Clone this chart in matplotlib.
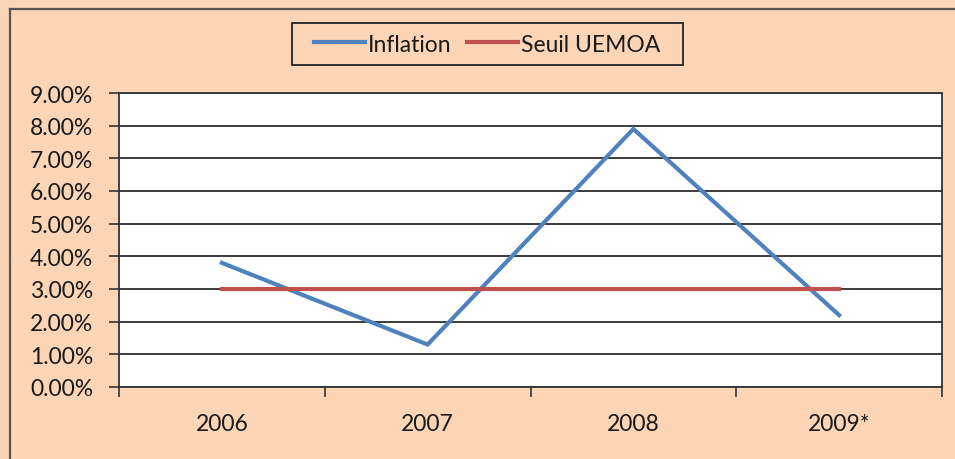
import matplotlib
matplotlib.use("Agg")
import matplotlib.pyplot as plt
from matplotlib.lines import Line2D
from matplotlib.patches import Rectangle
from matplotlib.ticker import FixedLocator, FuncFormatter

years = ["2006", "2007", "2008", "2009*"]
inflation = [3.8, 1.3, 7.9, 2.2]
seuil = [3.0, 3.0, 3.0, 3.0]
yticks = [0, 1, 2, 3, 4, 5, 6, 7, 8, 9]

W, H = 955, 460
bg = "#FBD5B5"
fig = plt.figure(figsize=(W / 100, H / 100), dpi=100, facecolor=bg)
plt.rcParams["font.family"] = ["Lato", "DejaVu Sans"]
FS = 16.5

# outer frame (left and top edges visible)
fig.add_artist(Line2D([10 / W, 10 / W], [0, 1 - 10 / H], transform=fig.transFigure,
                      color="#555555", lw=1.6))
fig.add_artist(Line2D([10 / W, 1], [1 - 10 / H, 1 - 10 / H], transform=fig.transFigure,
                      color="#555555", lw=1.6))

ax = fig.add_axes([119 / W, (H - 388) / H, (942 - 119) / W, (388 - 94) / H])
ax.set_facecolor("white")
x = list(range(len(years)))
ax.plot(x, inflation, color="#4F81BD", lw=3, label="Inflation", solid_joinstyle="miter")
ax.plot(x, seuil, color="#C0504D", lw=3, label="Seuil UEMOA")

ax.set_xlim(-0.5, len(years) - 0.5)
ax.set_ylim(0, 9)
ax.yaxis.set_major_locator(FixedLocator(yticks))
ax.yaxis.set_major_formatter(FuncFormatter(lambda v, p: f"{v:.2f}%"))
ax.grid(axis="y", color="#1a1a1a", lw=1.2)
ax.set_axisbelow(True)

ax.xaxis.set_major_locator(FixedLocator([i - 0.5 for i in range(len(years) + 1)]))
ax.xaxis.set_major_formatter(FuncFormatter(lambda v, p: ""))
ax.xaxis.set_minor_locator(FixedLocator(x))
ax.set_xticklabels(years, minor=True)
ax.tick_params(axis="x", which="major", length=7.5, width=1.2, color="#333333")
ax.tick_params(axis="x", which="minor", length=0, pad=19, labelsize=FS, labelcolor="#1a1a1a")
ax.tick_params(axis="y", length=7.5, width=1.2, color="#333333", labelsize=FS,
               labelcolor="#1a1a1a", pad=11)
for s in ax.spines.values():
    s.set_color("#333333")
    s.set_linewidth(1.3)

# legend frame drawn separately to match the wide padding
fig.add_artist(Rectangle((292 / W, 1 - 66 / H), (683 - 292) / W, 42 / H,
                         transform=fig.transFigure, facecolor="none",
                         edgecolor="#222222", lw=1.3))
leg = fig.legend(loc="center", bbox_to_anchor=(487 / W, 1 - 45 / H),
                 ncol=2, frameon=False, fontsize=FS, handlelength=2.2,
                 handletextpad=0.13, columnspacing=0.7, borderpad=0.2,
                 labelcolor="#1a1a1a")

fig.savefig("out.png", dpi=100, facecolor=bg)
